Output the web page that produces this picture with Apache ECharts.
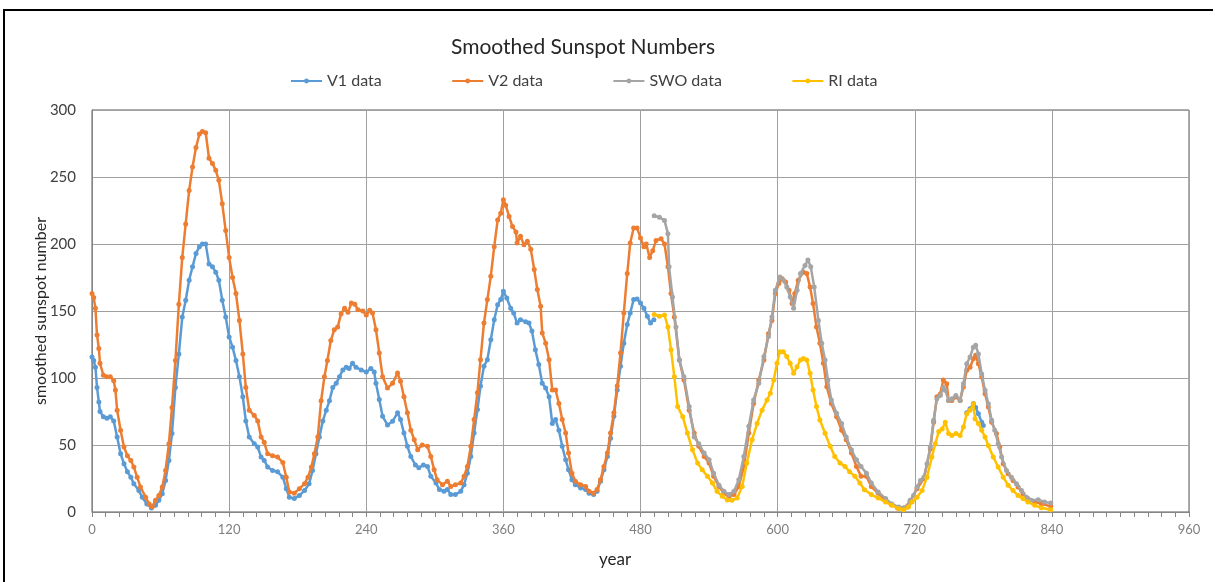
<!DOCTYPE html>
<html>
<head>
<meta charset="utf-8">
<script src="https://cdn.jsdelivr.net/npm/echarts@6/dist/echarts.min.js"></script>
<style>
html,body{margin:0;padding:0;background:#fff;}
#chart{width:1215px;height:582px;}
</style>
</head>
<body>
<div id="chart"></div>
<script>
// x ticks / y ticks
const xTicks = [0, 120, 240, 360, 480, 600, 720, 840, 960];
const yTicks = [0, 50, 100, 150, 200, 250, 300];

// V1 data (null = no value)
const v1X = [0,1.5,3,4.4,6,7,10,13,16,19,22,25,28,31,34,36.6,41,44,48,52,55.6,58.5,61.5,64.4,67.3,70,73,76,79,82,85,88,91,94,96.6,99.5,102.4,105.4,108.3,111,114,117,120,123,126,129,132,134.6,137.6,142,145,148,150.7,153.7,158,162.4,167,170,172.7,177,181.5,186,190,193,196,199,202,205,207.8,210.7,213.7,216.6,219.5,222.5,225,228,231,235.6,240,244,247,248.5,251.4,254.3,258.6,263,267.4,270,273,276,279,283,286,290,293.6,296.5,301,304,308,311,314,318,322.7,325.6,328.5,331.5,334.4,337.3,340,343,346,349,352,355,357.7,360,363,366.4,369,372,375,379.5,382.4,385,388,391,394,397,400,402.8,405.7,408.6,411.5,414.5,417,420,423,427.6,432,435,439,442,445,448,451,453.8,456.7,459.6,462.5,465.4,468.4,471,474,477,480,483,486,488.8,491.7,
  620,765.5,768.4,771.3,773.3,775.7,778.6,780];
const v1Y = [115.7,113,108,93,82,75,71,70,71,68,56,43.5,36,30,26,21,16,11,6,3,5,8.7,13.7,23.6,38.5,58.5,93,118,145.5,158,173,183,193,198,200,200,185,183,179,173,158,145.5,130.6,123,113,101,86,68,56,51,48.5,41,38.5,33.6,31,30,26,17.4,11,10,12.4,16,21,31,43.5,56,68,76,83,93,96,101,106,108,107,111,108,106,104.5,107,104.5,96,84,71.4,65,67.7,74,69,59,49,41.5,35,33,35,34,26.6,21.6,16.7,15.4,16.7,13,13,15.4,20.4,29,41.5,59,76.4,94,108.7,113.7,128.6,143.5,154.7,158.5,164.7,159.7,152,148.5,141,143.5,142,141,135,121,110,96,92.5,86,66,69,61,49,39,31.6,24,20.4,18,16.7,14,13,15.4,23,31.6,41.5,55,71.4,91,108.7,126,140,148.5,158.5,159,156,152,146,141,143.5,
  null,74,77,81,78,73.4,67,64.5];

// V2 data
const v2X = [0,1.5,3,4.4,6,7,10,13,16,19,20.5,22,25,28,31,34,36.6,39.5,42.4,47,50,52.7,55.6,58.5,61.5,64.4,67.3,70,73,76,79,82,85,88,91,94,96.6,99.5,102.4,105.4,108.3,111,114,117,120,123,126,129,132,134.6,137.6,142,145,148,150.7,153.7,158,162.4,167,170,172.7,177,181.5,186,189,192,194.6,197.6,200.5,203.4,206,209,212,215,218,221,224,227,230,232.7,237,240,243,245.5,248.5,251.4,254.3,258.6,263,267.4,270,273,276,279,282,285,289,293.6,296.5,299.4,302,306.7,311,314,318,322.7,325.6,328.5,331.5,334.4,337.3,340,343,346,349,352,355,357.7,360,362,365,368,371,372,375,378,381,384,387,389.7,392.6,394,397,400,402.8,405.7,408.6,411.5,414.5,417,420,423,427.6,432,435,439,442,445,448,451,453.8,456.7,459.6,462.5,465.4,468.4,471,474,477,480,483,485,488,490.7,493.6,498,501,504,506.7,509.6,514,518,522.6,527,531,535.7,540,544,548.7,553,557.4,561.8,566,570.4,574.8,579,583.5,588,592,595,598,601,604,607,610,612.6,615,618,622.6,625.5,628.4,631,634,637,640,643,647,651.6,656,660,664.6,669,673,677.7,682,688,693.7,699.5,705,710.4,716,722,728,733.6,736.5,739.4,742.3,745,748,749.6,752.5,756,759.7,762.6,765.5,768.4,771.3,773.3,775.7,778.6,781.5,784.4,787.3,791.5,794.4,797.4,801.7,806,810.4,814.7,819,825,830.8,839];
const v2Y = [163,160,152,132,122,111,102,101,101,98,91,76,61,48.5,42,38.5,33.6,26,18.7,11,6,4,8.7,12.4,18.7,31,51,78,113,155,190,215,240,257.5,272,282,284,283,264,260,255,247.5,230,210,190,175,163,143,118,93,76,72,68,56,52,43.5,42,41,37,26,15,14,17.4,21,26,33.6,43.5,56,83,101,113,128,136,138,148,152,149,156,155,151,150,147,150.5,148.5,136,118.7,101,92.5,96,103.7,97.5,86,74,61,54,46.5,50,49,41.5,31.6,24,20.4,23,19,20.4,21.6,26.6,34,49,69,89,113.7,141,158.5,176,198,218,223,233,229,220.6,213,209,200.7,205.7,199.5,202,196,181,166,153.5,133.6,126,113.7,91,91,81,69,59,44,29,23,20.4,19,15.4,14,16.7,24,34,44,59,74,94,118.7,148.5,178,200.7,212,212,204.5,198,200,190,195,202.7,204,200,183,163,145.6,113.4,98.5,76,59,49,41.4,36.5,26.6,19,14,11.7,13,19,34,59,81,98.5,113.4,133,143,163,170.5,174,171.7,165.5,155.6,163,173,179,178,168,155.6,138,126,111,93.5,81,71,61,54,44,34,26.6,26.6,19,14,9,5.5,3,2.5,8,17.4,25,47,67,86,88,98.5,95.8,83.3,83.3,85.8,83.3,93.3,105.7,108,114.4,117,110.7,100.7,88.3,78.4,67,58.5,48.5,36,28.6,23.6,18.7,13.7,10,7.5,6.2,4.2];

// SWO data
const swoX = [492,496.5,501,504,505,508,511,514,518,522.6,527,531,535.7,540,544,548.7,553,557.4,561.8,566,570.4,574.8,579,583.5,588,592,595,598,602,605,608,611,614,617,620,624,626.5,629,632,635.7,638.6,641.5,644,647,651.6,656,660,664.6,669,673,677.7,682,688,694.5,700,706,710.4,713.3,716,719,722,725,728,730.7,733.6,736.5,739.4,742.3,745,746.7,749.6,752.5,756,759.7,762.6,765.5,768.4,771.3,773.3,775.7,778.6,781.5,784.4,787.3,790,793,796,800.3,804.6,809,813.4,817.7,822,828,833.6,839];
const swoY = [221,220,217.6,207.7,183,160.5,138,113.4,101,78.7,56,51,44,39,29,20,15.4,13,15.4,24,41.4,64,83.6,96,116,131,145.6,165.5,175.4,173,168,160.5,152,165.5,178,184,188,183,168,143,126,113.4,98.5,83.6,73.7,66,56,46.4,39,34,29,21.6,15,10,6,3.7,3.2,3.7,8.7,12.4,18.7,23.6,26,36,48.5,68.4,84.6,87,93,90.8,83.3,84.6,87,83.3,95.8,110.7,115.7,123,124.4,118,103,90.8,80.8,68.4,61,51,41,31,26,21,16,11,8.7,9.2,7.5,6.7];

// RI data
const riX = [492,496.5,501,504,506.7,509.6,512.5,517,521,525.5,530,534,538.6,543,547,551.6,556,560,564.6,569,573,577.7,582,586.4,590.7,593.6,596.6,599.4,602,605,608,611,614,617,620,622.6,625.5,628.4,631,634,637,641.5,646,650,654.6,659,663,667.6,672,676,682,688,694.5,700,706,710.4,714.5,717.7,722,726.4,730.7,735,738,741,744,746.7,749.6,752.5,756,759.7,762.6,765.5,768.4,771.3,772.8,775.7,778.6,781.5,784.4,788.7,793,797.4,801.7,806,810.4,814.7,819,825,830.8,839];
const riY = [147.4,146,147,138,121,101,78.7,71,59,46.4,36.5,31.5,26.6,21.6,15.4,11.7,9,8.7,10.4,19,36.5,54,66,76,83.6,88.6,98.5,111,119.6,119.6,116,111,103.5,108.4,113.4,114.6,113.4,103.5,91,78.7,68.7,58.8,49,41.4,36.5,34,30,26.6,21.6,16.6,13,10.4,7.5,5,2.5,1.7,3.7,7.5,11,16,26,41,51,60,62,67,58.5,57,58.5,57,63.4,73.4,75.9,80.8,69.6,66,61,56,49.7,41,33.6,26,20,16,12.4,10,7.5,5,3.2,1.7];

const seriesNames = ['V1 data', 'V2 data', 'SWO data', 'RI data'];
const seriesColors = ['#5B9BD5', '#ED7D31', '#A5A5A5', '#FFC000'];

function zip(xs, ys) {
  return xs.map((x, i) => [x, ys[i] === null ? '-' : ys[i]]);
}
const seriesData = [zip(v1X, v1Y), zip(v2X, v2Y), zip(swoX, swoY), zip(riX, riY)];

const chart = echarts.init(document.getElementById('chart'), null, {renderer: 'canvas'});
const FONT = 'Lato, "Open Sans", sans-serif';

chart.setOption({
  animation: false,
  backgroundColor: '#fff',
  title: {
    text: 'Smoothed Sunspot Numbers',
    left: 446, top: 32,
    textStyle: {fontFamily: FONT, fontSize: 21, fontWeight: 'normal', color: '#262626'}
  },
  legend: {
    data: seriesNames,
    left: 285, top: 68,
    itemGap: 69.5, itemWidth: 31, itemHeight: 6,
    textStyle: {fontFamily: FONT, fontSize: 16, color: '#404040'}
  },
  grid: {
    left: 92, right: 26, top: 110, bottom: 70,
    show: true, borderColor: '#595959', borderWidth: 1
  },
  xAxis: {
    type: 'value', min: xTicks[0], max: xTicks[xTicks.length - 1], interval: 120,
    axisLine: {show: true, lineStyle: {color: '#868686', width: 1}},
    axisTick: {show: true, length: 5, lineStyle: {color: '#868686'}},
    minorTick: {show: true, splitNumber: 10, length: 5, lineStyle: {color: '#868686'}},
    splitLine: {show: true, lineStyle: {color: '#a0a0a0', width: 1}},
    axisLabel: {fontFamily: FONT, fontSize: 13, color: '#7f7f7f', margin: 11}
  },
  yAxis: {
    type: 'value', min: yTicks[0], max: yTicks[yTicks.length - 1], interval: 50,
    axisLine: {show: true, lineStyle: {color: '#868686', width: 1}},
    axisTick: {show: false},
    splitLine: {show: true, lineStyle: {color: '#a0a0a0', width: 1}},
    axisLabel: {fontFamily: FONT, fontSize: 15, color: '#404040', margin: 16}
  },
  graphic: [
    {type: 'polyline', shape: {points: [[4, 582], [4, 10], [1213, 10]]}, style: {stroke: '#000', lineWidth: 2, fill: null}, silent: true},
    {type: 'text', left: 599, top: 551, style: {text: 'year', fontFamily: FONT, fontSize: 17, fill: '#262626'}},
    {type: 'text', x: 41, y: 311, rotation: Math.PI / 2, style: {text: 'smoothed sunspot number', fontFamily: FONT, fontSize: 16, fill: '#262626', align: 'center', verticalAlign: 'middle'}}
  ],
  series: seriesNames.map((name, i) => ({
    name: name,
    type: 'line',
    data: seriesData[i],
    color: seriesColors[i],
    symbol: 'circle',
    symbolSize: 5,
    showSymbol: true,
    connectNulls: false,
    lineStyle: {width: 2.5, color: seriesColors[i]},
    itemStyle: {color: seriesColors[i]},
    z: 2 + i
  }))
});
</script>
</body>
</html>
